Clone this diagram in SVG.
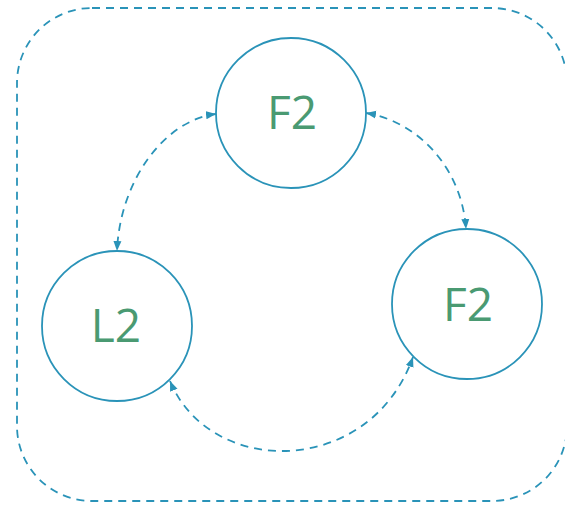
<svg xmlns="http://www.w3.org/2000/svg" width="565" height="505" viewBox="0 0 565 505">
<style>
.node{fill:#ffffff;stroke:#2a93b8;stroke-width:1.8}
.lbl{font-family:"Open Sans","Noto Sans",sans-serif;font-size:46px;fill:#4a9a72;text-anchor:middle}
.edge{fill:none;stroke:#2a93b8;stroke-width:1.8;stroke-dasharray:8 6}
.frame{fill:none;stroke:#2a93b8;stroke-width:1.8;stroke-dasharray:8 6}
</style>
<defs>
<marker id="arr" viewBox="0 0 10 10" refX="10" refY="5" markerWidth="10" markerHeight="10" markerUnits="userSpaceOnUse" orient="auto-start-reverse">
<path d="M0,1 L10,5 L0,9 Z" fill="#2a93b8"/>
</marker>
</defs>
<rect class="frame" x="17" y="8" width="550" height="493" rx="75" ry="75"/>
<g id="connectors">
<path class="edge" d="M216,114 C165,120 120,180 117,251" marker-start="url(#arr)" marker-end="url(#arr)"/>
<path class="edge" d="M366,113 C420,122 462,170 466,229" marker-start="url(#arr)" marker-end="url(#arr)"/>
<path class="edge" d="M170,381 C210,478 370,478 413,357" marker-start="url(#arr)" marker-end="url(#arr)"/>
</g>
<g id="node-f2-top">
<circle class="node" cx="291" cy="113" r="75"/>
<text class="lbl" x="292" y="129">F2</text>
</g>
<g id="node-l2">
<circle class="node" cx="117" cy="326" r="75"/>
<text class="lbl" x="116" y="342">L2</text>
</g>
<g id="node-f2-right">
<circle class="node" cx="467" cy="304" r="75"/>
<text class="lbl" x="468" y="321">F2</text>
</g>
</svg>
